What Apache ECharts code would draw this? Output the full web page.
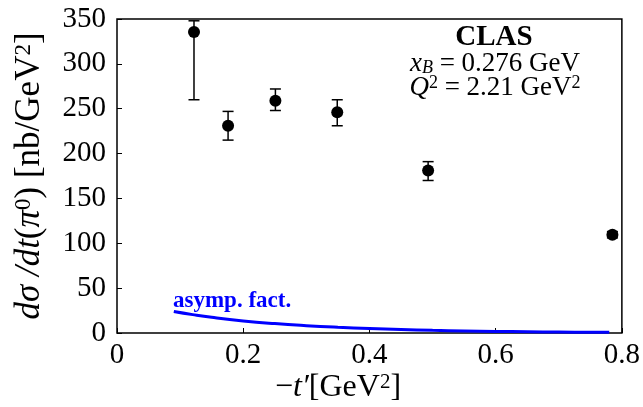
<!DOCTYPE html>
<html><head><meta charset="utf-8">
<script src="https://cdn.jsdelivr.net/npm/echarts@6/dist/echarts.min.js"></script>
<style>html,body{margin:0;padding:0;background:#fff}#c{width:643px;height:407px}</style>
</head><body><div id="c"></div>
<script>
// Data points (CLAS)
const tVals = [0.122, 0.176, 0.251, 0.349, 0.493, 0.785];
const sigmaVals = [335.5, 231, 259, 246, 181, 109.5];
const errLow = [260, 215, 248, 231, 170, 106];
const errHigh = [348, 247, 272, 260, 191, 113];
// Theory curve "asymp. fact."
const curveT = [0.09, 0.12, 0.15, 0.2, 0.25, 0.3, 0.35, 0.4, 0.45, 0.5, 0.55, 0.6, 0.65, 0.7, 0.75, 0.78];
const curveY = [24, 20.5, 17.5, 13.5, 10.5, 8.2, 6.4, 5.0, 3.9, 3.0, 2.3, 1.8, 1.4, 1.1, 0.8, 0.7];
const xTicks = [0, 0.2, 0.4, 0.6, 0.8];
const yTicks = [0, 50, 100, 150, 200, 250, 300, 350];

const SERIF = '"Liberation Serif", "DejaVu Serif", serif';
const chart = echarts.init(document.getElementById('c'));
const pts = tVals.map((t, i) => [t, sigmaVals[i]]);
const errs = tVals.map((t, i) => [t, errLow[i], errHigh[i]]);
const curve = curveT.map((t, i) => [t, curveY[i]]);

chart.setOption({
  animation: false,
  grid: { left: 117, top: 19, right: 21, bottom: 74, show: true, borderColor: '#000', borderWidth: 1.5, backgroundColor: 'transparent' },
  xAxis: {
    type: 'value', min: xTicks[0], max: xTicks[xTicks.length - 1], interval: 0.2,
    axisLine: { show: false }, splitLine: { show: false },
    axisTick: { inside: true, length: 5, lineStyle: { color: '#000', width: 1 } },
    axisLabel: { fontFamily: SERIF, fontSize: 29, color: '#000', margin: 8, formatter: v => String(+v.toFixed(1)) }
  },
  yAxis: {
    type: 'value', min: yTicks[0], max: yTicks[yTicks.length - 1], interval: 50,
    axisLine: { show: false }, splitLine: { show: false },
    axisTick: { inside: true, length: 5, lineStyle: { color: '#000', width: 1 } },
    axisLabel: { fontFamily: SERIF, fontSize: 29, color: '#000', margin: 11 },
    name: '{i|dσ /dt}{r|(}{i|π}{sup|0}{r|) [nb/GeV}{sup|2}{r|]}',
    nameLocation: 'middle', nameRotate: 90, nameGap: 70,
    nameTextStyle: {
      rich: {
        i: { fontFamily: SERIF, fontStyle: 'italic', fontSize: 35, color: '#000' },
        r: { fontFamily: SERIF, fontSize: 35, color: '#000' },
        sup: { fontFamily: SERIF, fontSize: 23, color: '#000', verticalAlign: 'top' }
      }
    }
  },
  series: [
    {
      type: 'line', data: curve, showSymbol: false, smooth: true,
      lineStyle: { color: '#0000ff', width: 3 }, z: 2
    },
    {
      type: 'custom', data: errs, z: 3,
      renderItem: (params, api) => {
        const x = api.value(0);
        const lo = api.coord([x, api.value(1)]);
        const hi = api.coord([x, api.value(2)]);
        const w = 5.5;
        const st = { stroke: '#000', lineWidth: 1.5 };
        return { type: 'group', children: [
          { type: 'line', shape: { x1: lo[0], y1: lo[1], x2: hi[0], y2: hi[1] }, style: st },
          { type: 'line', shape: { x1: lo[0] - w, y1: lo[1], x2: lo[0] + w, y2: lo[1] }, style: st },
          { type: 'line', shape: { x1: hi[0] - w, y1: hi[1], x2: hi[0] + w, y2: hi[1] }, style: st }
        ]};
      }
    },
    {
      type: 'scatter', data: pts, symbol: 'circle', symbolSize: 12,
      itemStyle: { color: '#000', opacity: 1 }, z: 4
    }
  ],
  graphic: [
    { type: 'text', x: 494, y: 38, style: { text: 'CLAS', font: 'bold 29px ' + SERIF, fill: '#000', align: 'center', verticalAlign: 'middle' } },
    { type: 'text', x: 495, y: 64, style: {
      text: '{i|x}{sub|B}{r| = 0.276 GeV}', align: 'center', verticalAlign: 'middle',
      rich: {
        i: { fontFamily: SERIF, fontStyle: 'italic', fontSize: 27, fill: '#000' },
        r: { fontFamily: SERIF, fontSize: 27, fill: '#000' },
        sub: { fontFamily: SERIF, fontStyle: 'italic', fontSize: 18, fill: '#000', verticalAlign: 'bottom' }
      } } },
    { type: 'text', x: 495, y: 88, style: {
      text: '{i|Q}{sup|2}{r| = 2.21 GeV}{sup|2}', align: 'center', verticalAlign: 'middle',
      rich: {
        i: { fontFamily: SERIF, fontStyle: 'italic', fontSize: 27, fill: '#000' },
        r: { fontFamily: SERIF, fontSize: 27, fill: '#000' },
        sup: { fontFamily: SERIF, fontSize: 18, fill: '#000', verticalAlign: 'top' }
      } } },
    { type: 'text', x: 173, y: 301, style: { text: 'asymp. fact.', font: 'bold 23px ' + SERIF, fill: '#0000ff', align: 'left', verticalAlign: 'middle' } },
    { type: 'text', x: 338, y: 388, style: {
      text: '{r|−}{i|t′}{r|[GeV}{sup|2}{r|]}', align: 'center', verticalAlign: 'middle',
      rich: {
        i: { fontFamily: SERIF, fontStyle: 'italic', fontSize: 32, fill: '#000' },
        r: { fontFamily: SERIF, fontSize: 32, fill: '#000' },
        sup: { fontFamily: SERIF, fontSize: 21, fill: '#000', verticalAlign: 'top' }
      } } }
  ]
});
</script></body></html>
